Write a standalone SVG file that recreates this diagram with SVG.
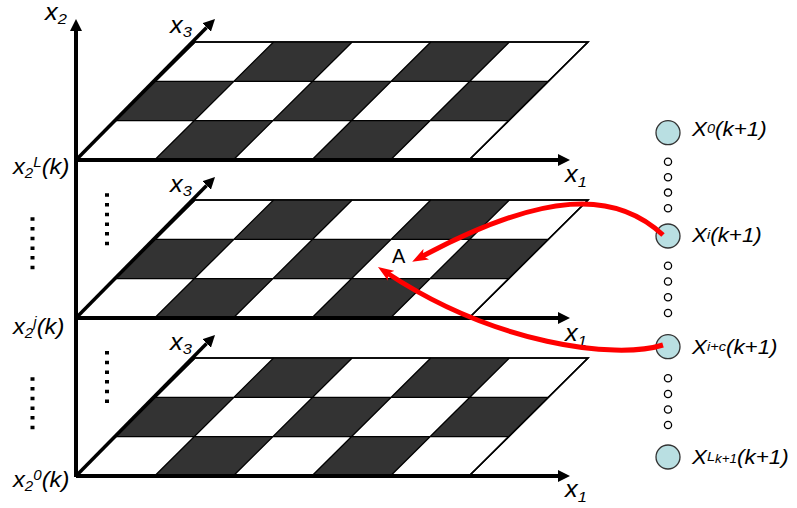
<svg xmlns="http://www.w3.org/2000/svg" xmlns:xlink="http://www.w3.org/1999/xlink" width="797" height="508" viewBox="0 0 797 508">
<style>
.t{font-family:"Liberation Sans",Arial,sans-serif;font-style:italic;fill:#000}
.up{font-family:"Liberation Sans",Arial,sans-serif;fill:#000}
.cell{fill:#333333;stroke:none}
.grid{fill:none;stroke:#000;stroke-width:1.3}
.outline{fill:#fff;stroke:#000;stroke-width:1.5}
.axis{fill:none;stroke:#000;stroke-width:4}
.dots{stroke:#000;stroke-width:4;stroke-dasharray:3.5 6.2}
.node{fill:#b9dfe2;stroke:#333;stroke-width:1.3}
.ring{fill:#fff;stroke:#000;stroke-width:1.3}
.red{fill:none;stroke:#ff0000;stroke-width:5;marker-end:url(#redhead)}
</style>
<defs>
<marker id="ax" viewBox="0 0 12 12" markerWidth="12" markerHeight="12" refX="0" refY="6" markerUnits="userSpaceOnUse" orient="auto">
<path d="M0,0 L12,6 L0,12 Z" fill="#000"/>
</marker>
<marker id="redhead" viewBox="0 0 16 12" markerWidth="16" markerHeight="12" refX="6" refY="6" markerUnits="userSpaceOnUse" orient="auto">
<path d="M0,0 L16,6 L0,12 L4,6 Z" fill="#ff0000"/>
</marker>
<g id="plane">
<path class="outline" d="M0,0 L393,0 L512,-118 L119,-118 Z"/>
<path class="cell" d="M78.6,0 L157.2,0 L196.87,-39.33 L118.27,-39.33 Z M235.8,0 L314.4,0 L354.07,-39.33 L275.47,-39.33 Z M39.67,-39.33 L118.27,-39.33 L157.93,-78.67 L79.33,-78.67 Z M196.87,-39.33 L275.47,-39.33 L315.13,-78.67 L236.53,-78.67 Z M354.07,-39.33 L432.67,-39.33 L472.33,-78.67 L393.73,-78.67 Z M157.93,-78.67 L236.53,-78.67 L276.2,-118 L197.6,-118 Z M315.13,-78.67 L393.73,-78.67 L433.4,-118 L354.8,-118 Z"/>
<path class="grid" d="M39.67,-39.33 H432.67 M79.33,-78.67 H472.33 M78.6,0 L197.6,-118 M157.2,0 L276.2,-118 M235.8,0 L354.8,-118 M314.4,0 L433.4,-118"/>
<path class="outline" style="fill:none" d="M0,0 L393,0 L512,-118 L119,-118 Z"/>
<line class="axis" x1="0" y1="0" x2="482" y2="0" marker-end="url(#ax)"/>
<line class="axis" style="stroke-width:3.5" x1="0" y1="0" x2="130.6" y2="-132.5" marker-end="url(#ax)"/>
</g>
</defs>

<g id="layer-top">
<use xlink:href="#plane" transform="translate(76,160)"/>
<text class="t" font-size="23" transform="translate(565,182) scale(1.1,1)">x<tspan font-size="15" y="5">1</tspan></text>
<text class="t" font-size="23" transform="translate(170,33) scale(1.1,1)">x<tspan font-size="15" y="4">3</tspan></text>
</g>
<g id="layer-middle">
<use xlink:href="#plane" transform="translate(76,318)"/>
<text class="t" font-size="23" transform="translate(565,341) scale(1.1,1)">x<tspan font-size="15" y="5">1</tspan></text>
<text class="t" font-size="23" transform="translate(170,192) scale(1.1,1)">x<tspan font-size="15" y="4">3</tspan></text>
</g>
<g id="layer-bottom">
<use xlink:href="#plane" transform="translate(76,476)"/>
<text class="t" font-size="23" transform="translate(565,497) scale(1.1,1)">x<tspan font-size="15" y="5">1</tspan></text>
<text class="t" font-size="23" transform="translate(170,350) scale(1.1,1)">x<tspan font-size="15" y="4">3</tspan></text>
</g>

<g id="x2-axis">
<line class="axis" x1="76" y1="477" x2="76" y2="31" marker-end="url(#ax)"/>
<text class="t" font-size="23" transform="translate(45,20) scale(1.1,1)">x<tspan font-size="15" y="4">2</tspan></text>
<text class="t" font-size="22" transform="translate(13,174) scale(1.08,1)">x<tspan font-size="14" y="4">2</tspan><tspan font-size="14" y="-7">L</tspan><tspan y="0">(k)</tspan></text>
<text class="t" font-size="22" transform="translate(13,334) scale(1.08,1)">x<tspan font-size="14" y="4">2</tspan><tspan font-size="14" y="-7">j</tspan><tspan y="0">(k)</tspan></text>
<text class="t" font-size="22" transform="translate(13,487) scale(1.08,1)">x<tspan font-size="14" y="4">2</tspan><tspan font-size="14" y="-7">0</tspan><tspan y="0">(k)</tspan></text>
</g>

<g id="ellipsis-dots">
<line class="dots" x1="32.5" y1="217.3" x2="32.5" y2="270"/>
<line class="dots" x1="107" y1="193.3" x2="107" y2="246"/>
<line class="dots" x1="32.5" y1="377.3" x2="32.5" y2="430"/>
<line class="dots" x1="107" y1="351" x2="107" y2="404"/>
</g>

<text id="label-A" class="up" font-size="20" x="392" y="263">A</text>

<g id="node-X0">
<circle class="node" cx="668" cy="132.7" r="12"/>
<text class="t" font-size="20" transform="translate(692,136) scale(1.12,1)">X<tspan font-size="13" y="-3">0</tspan><tspan y="0">(k+1)</tspan></text>
</g>
<g id="rings-1">
<circle class="ring" cx="668" cy="161.7" r="3.6"/>
<circle class="ring" cx="668" cy="177.3" r="3.6"/>
<circle class="ring" cx="668" cy="192.6" r="3.6"/>
<circle class="ring" cx="668" cy="208.3" r="3.6"/>
</g>
<g id="node-Xi">
<circle class="node" cx="668" cy="236" r="12"/>
<text class="t" font-size="20" transform="translate(692,242) scale(1.12,1)">X<tspan font-size="13" y="-3">i</tspan><tspan y="0">(k+1)</tspan></text>
</g>
<g id="rings-2">
<circle class="ring" cx="668" cy="265.7" r="3.6"/>
<circle class="ring" cx="668" cy="281.5" r="3.6"/>
<circle class="ring" cx="668" cy="297.3" r="3.6"/>
<circle class="ring" cx="668" cy="313" r="3.6"/>
</g>
<g id="node-Xic">
<circle class="node" cx="668" cy="346.7" r="12"/>
<text class="t" font-size="20" transform="translate(692,354) scale(1.12,1)">X<tspan font-size="13" y="-3">i+c</tspan><tspan y="0">(k+1)</tspan></text>
</g>
<g id="rings-3">
<circle class="ring" cx="668" cy="378.3" r="3.6"/>
<circle class="ring" cx="668" cy="394" r="3.6"/>
<circle class="ring" cx="668" cy="409.5" r="3.6"/>
<circle class="ring" cx="668" cy="425" r="3.6"/>
</g>
<g id="node-XL">
<circle class="node" cx="668" cy="457" r="12"/>
<text class="t" font-size="20" transform="translate(692,464) scale(1.12,1)">X<tspan font-size="13" y="-3">L</tspan><tspan font-size="12" y="-1">k+1</tspan><tspan y="0">(k+1)</tspan></text>
</g>

<g id="connectors">
<path class="red" d="M663,235 C615,190 544,191 421,257"/>
<path class="red" d="M663,345 C615,360 494,344 386.3,272.5"/>
</g>
</svg>
